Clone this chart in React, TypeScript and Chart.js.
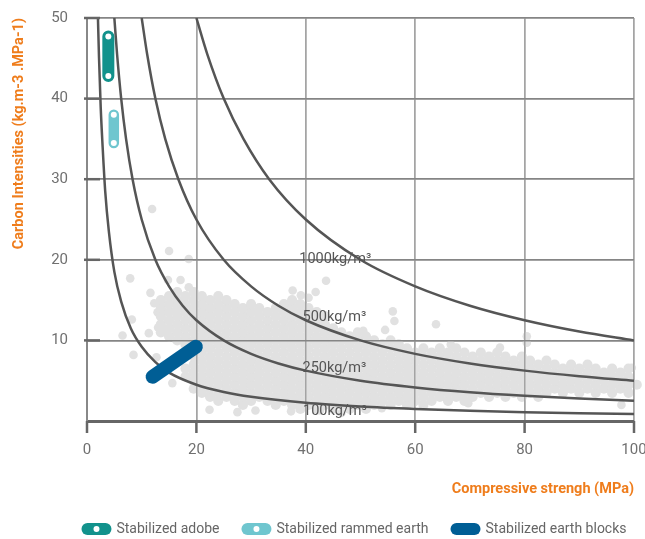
import React, { useEffect, useRef } from 'react';
import { Chart, registerables } from 'chart.js';

Chart.register(...registerables);

const FONT = "Roboto, 'DejaVu Sans Condensed', sans-serif";
const ORANGE = '#ef7d1c';

// axis ticks
const xTicks = [0, 20, 40, 60, 80, 100];
const yTicks = [10, 20, 30, 40, 50];

// iso-density curves (kg/m3)
const curveX100 = [2, 2.2, 2.5, 2.86, 3.33, 4, 5, 6.25, 8, 10, 12.5, 15, 20, 25, 30, 40, 50, 60, 70, 80, 90, 100];
const curveY100 = [50, 45, 39, 34, 28.5, 23.5, 18.5, 14.8, 11.5, 9.2, 7.3, 6.0, 4.5, 3.6, 3.0, 2.25, 1.8, 1.5, 1.28, 1.1, 0.96, 0.86];
const curveX250 = [5, 5.5, 6.25, 7.14, 8.33, 10, 12.5, 15, 17.5, 20, 25, 30, 35, 40, 50, 60, 70, 80, 90, 100];
const curveY250 = [50, 45.5, 40, 35, 30, 25, 20, 16.7, 14.3, 12.5, 10, 8.33, 7.14, 6.25, 5, 4.17, 3.57, 3.13, 2.78, 2.5];
const curveX500 = [10, 11, 12.5, 14.3, 16.7, 20, 25, 30, 35, 40, 50, 60, 70, 80, 90, 100];
const curveY500 = [50, 45.5, 40, 35, 30, 25, 20, 16.7, 14.3, 12.5, 10, 8.33, 7.14, 6.25, 5.56, 5];
const curveX1000 = [20, 22, 25, 28.6, 33.3, 40, 50, 60, 70, 80, 90, 100];
const curveY1000 = [50, 45.5, 40, 35, 30, 25, 20, 16.7, 14.3, 12.5, 11.1, 10];

const curveLabels = ['100kg/m³', '250kg/m³', '500kg/m³', '1000kg/m³'];
const curveLabelX = [39.5, 39.4, 39.4, 38.8];
const curveLabelY = [1.15, 6.55, 12.8, 20.1];

// highlighted series
const seriesNames = ['Stabilized adobe', 'Stabilized rammed earth', 'Stabilized earth blocks'];
const seriesColors = ['#12928c', '#6fc6cf', '#005e95'];
const adobeX = [3.9, 3.9];
const adobeY = [47.7, 42.8];
const rammedX = [4.9, 4.9];
const rammedY = [38.0, 34.5];
const blocksX = [12.0, 19.9];
const blocksY = [5.5, 9.2];

// background cloud of materials: [strength, list of carbon intensities]
const cloudColumns: [number, number[]][] = [
  [13.5, [11, 12, 13, 14, 15]],
  [15, [10.5, 11.5, 12.5, 13.5, 14.5, 15.5]],
  [16.5, [10, 11, 12, 13, 14, 15, 16]],
  [18, [5.5, 6.5, 9.5, 10.5, 11.5, 12.5, 13.5, 14.5, 15.5]],
  [19.5, [4, 5, 6, 7, 8, 9, 10, 11, 12, 13, 14, 15, 16]],
  [21, [3.5, 4.5, 5.5, 6.5, 7.5, 8.5, 9.5, 10.5, 11.5, 12.5, 13.5, 14.5, 15.5]],
  [22.5, [3, 4, 5, 6, 7, 8, 9, 10, 11, 12, 13, 14, 15]],
  [24, [2.5, 3.5, 4.5, 5.5, 6.5, 7.5, 8.5, 9.5, 10.5, 11.5, 12.5, 13.5, 14.5, 15.5]],
  [25.5, [3, 4, 5, 6, 7, 8, 9, 10, 11, 12, 13, 14, 15]],
  [27, [2.5, 3.5, 4.5, 5.5, 6.5, 7.5, 8.5, 9.5, 10.5, 11.5, 12.5, 13.5, 14.5]],
  [28.5, [2, 3, 4, 5, 6, 7, 8, 9, 10, 11, 12, 13, 14]],
  [30, [2.5, 3.5, 4.5, 5.5, 6.5, 7.5, 8.5, 9.5, 10.5, 11.5, 12.5, 13.5, 14.5]],
  [31.5, [3, 4, 5, 6, 7, 8, 9, 10, 11, 12, 13, 14]],
  [33, [2.5, 3.5, 4.5, 5.5, 6.5, 7.5, 8.5, 9.5, 10.5, 11.5, 12.5, 13.5]],
  [34.5, [2, 3, 4, 5, 6, 7, 8, 9, 10, 11, 12, 13, 14]],
  [36, [2.5, 3.5, 4.5, 5.5, 6.5, 7.5, 8.5, 9.5, 10.5, 11.5, 12.5, 13.5, 14.5]],
  [37.5, [2, 3, 4, 5, 6, 7, 8, 9, 10, 11, 12, 13, 14, 15]],
  [39, [1.5, 2.5, 3.5, 4.5, 5.5, 6.5, 7.5, 8.5, 9.5, 10.5, 11.5, 12.5, 13.5, 14.5]],
  [40.5, [2, 3, 4, 5, 6, 7, 8, 9, 10, 11, 12, 13, 14]],
  [42, [1.5, 2.5, 3.5, 4.5, 5.5, 6.5, 7.5, 8.5, 9.5, 10.5, 11.5, 12.5, 13.5]],
  [43.5, [2, 3, 4, 5, 6, 7, 8, 9, 10, 11, 12, 13]],
  [45, [1.5, 2.5, 3.5, 4.5, 5.5, 6.5, 7.5, 8.5, 9.5, 10.5, 11.5]],
  [46.5, [2, 3, 4, 5, 6, 7, 8, 9, 10, 11]],
  [48, [1.5, 2.5, 3.5, 4.5, 5.5, 6.5, 7.5, 8.5, 9.5, 10.5]],
  [49.5, [2, 3, 4, 5, 6, 7, 8, 9, 10, 11]],
  [51, [1.5, 2.5, 3.5, 4.5, 5.5, 6.5, 7.5, 8.5, 9.5, 10.5]],
  [52.5, [2, 3, 4, 5, 6, 7, 8, 9, 10]],
  [54, [2.5, 3.5, 4.5, 5.5, 6.5, 7.5, 8.5, 9.5]],
  [55.5, [2, 3, 4, 5, 6, 7, 8, 9, 10]],
  [57, [2.5, 3.5, 4.5, 5.5, 6.5, 7.5, 8.5, 9.5]],
  [58.5, [2, 3, 4, 5, 6, 7, 8, 9]],
  [60, [2.5, 3.5, 4.5, 5.5, 6.5, 7.5, 8.5]],
  [61.5, [2, 3, 4, 5, 6, 7, 8, 9]],
  [63, [2.5, 3.5, 4.5, 5.5, 6.5, 7.5, 8.5]],
  [64.5, [3, 4, 5, 6, 7, 8, 9]],
  [66, [2.5, 3.5, 4.5, 5.5, 6.5, 7.5, 8.5]],
  [67.5, [3, 4, 5, 6, 7, 8, 9]],
  [69, [2.5, 3.5, 4.5, 5.5, 6.5, 7.5, 8.5]],
  [70.5, [3, 4, 5, 6, 7, 8]],
  [72, [3.5, 4.5, 5.5, 6.5, 7.5, 8.5]],
  [73.5, [3, 4, 5, 6, 7, 8]],
  [75, [3.5, 4.5, 5.5, 6.5, 7.5, 8.5]],
  [76.5, [3, 4, 5, 6, 7, 8]],
  [78, [3.5, 4.5, 5.5, 6.5, 7.5]],
  [79.5, [3, 4, 5, 6, 7, 8]],
  [81, [3.5, 4.5, 5.5, 6.5, 7.5]],
  [82.5, [3, 4, 5, 6, 7]],
  [84, [3.5, 4.5, 5.5, 6.5, 7.5]],
  [85.5, [4, 5, 6, 7]],
  [87, [3.5, 4.5, 5.5, 6.5]],
  [88.5, [4, 5, 6, 7]],
  [90, [3.5, 4.5, 5.5, 6.5]],
  [91.5, [4, 5, 6, 7]],
  [93, [3.5, 4.5, 5.5, 6.5]],
  [94.5, [4, 5, 6]],
  [96, [3.5, 4.5, 5.5, 6.5]],
  [97.5, [4, 5, 6]],
  [99, [3.5, 4.5, 5.5, 6.5]],
  [100.5, [4.5, 5.5]],
];

const cloudStrays: [number, number][] = [
  [6.5, 10.6], [7.9, 17.7], [8.2, 12.6], [8.5, 8.2], [11.3, 10.9], [11.6, 15.9], [11.9, 26.3],
  [12.7, 7.9], [12.9, 13.5], [13.0, 11.6], [12.3, 14.6], [15.0, 21.1], [14.8, 17.5], [17.1, 17.5],
  [18.6, 20.1], [18.6, 16.6], [15.6, 4.7], [22.4, 1.4], [27.5, 1.1], [30.8, 1.3], [37.3, 1.2],
  [42.6, 1.3], [46.5, 1.0], [37.6, 16.2], [41.8, 16.0], [43.7, 17.4], [39.1, 15.6], [40.5, 15.3],
  [55.9, 13.6], [56.2, 12.4], [54.5, 11.3], [50.5, 11.2], [63.8, 12.0], [80.4, 10.5], [80.4, 9.7],
  [75.5, 9.1], [99.6, 6.6], [97.7, 2.0], [69.7, 2.2], [53.9, 1.6], [59.6, 2.2], [66.5, 9.5],
];

function pts(xs: number[], ys: number[]) {
  return xs.map((x, i) => ({ x, y: ys[i] }));
}

const gridOverCloud = {
  id: 'gridOverCloud',
  afterDatasetDraw(chart: any, args: any) {
    if (args.index !== 0) return;
    chart.scales.x.drawGrid(chart.chartArea);
    chart.scales.y.drawGrid(chart.chartArea);
  },
};

const tickMarks = {
  id: 'tickMarks',
  afterDatasetsDraw(chart: any) {
    const { ctx, chartArea: a, scales } = chart;
    ctx.save();
    ctx.strokeStyle = '#666';
    ctx.lineWidth = 2.5;
    yTicks.forEach((v) => {
      const py = scales.y.getPixelForValue(v);
      ctx.beginPath();
      ctx.moveTo(a.left - 3, py);
      ctx.lineTo(a.left + 13, py);
      ctx.stroke();
    });
    xTicks.forEach((v) => {
      const px = scales.x.getPixelForValue(v);
      ctx.beginPath();
      ctx.moveTo(px, a.bottom);
      ctx.lineTo(px, a.bottom + 12);
      ctx.stroke();
    });
    ctx.restore();
  },
};

const curveLabelPlugin = {
  id: 'curveLabels',
  afterDatasetsDraw(chart: any) {
    const { ctx, scales } = chart;
    ctx.save();
    ctx.font = `14.5px ${FONT}`;
    ctx.fillStyle = '#555';
    ctx.textAlign = 'left';
    ctx.textBaseline = 'middle';
    curveLabels.forEach((t, i) => {
      ctx.fillText(t, scales.x.getPixelForValue(curveLabelX[i]), scales.y.getPixelForValue(curveLabelY[i]));
    });
    ctx.restore();
  },
};

// legend with pill-shaped keys, centred like the original
const seriesLegend = {
  id: 'seriesLegend',
  afterDraw(chart: any) {
    const { ctx } = chart;
    const pillW = 30;
    const pillH = 12;
    const gapIn = 5;
    const gapOut = 22;
    const cx = 354;
    const cy = 529;
    ctx.save();
    ctx.font = `14px ${FONT}`;
    ctx.textBaseline = 'middle';
    ctx.textAlign = 'left';
    const widths = seriesNames.map((n) => ctx.measureText(n).width);
    const total = widths.reduce((s, w) => s + w + pillW + gapIn, 0) + gapOut * (seriesNames.length - 1);
    let x = cx - total / 2;
    seriesNames.forEach((name, i) => {
      ctx.fillStyle = seriesColors[i];
      ctx.beginPath();
      ctx.roundRect(x, cy - pillH / 2, pillW, pillH, pillH / 2);
      ctx.fill();
      if (i < 2) {
        ctx.fillStyle = '#ffffff';
        ctx.beginPath();
        ctx.arc(x + pillW / 2, cy, 3, 0, Math.PI * 2);
        ctx.fill();
      }
      x += pillW + gapIn;
      ctx.fillStyle = '#666';
      ctx.fillText(name, x, cy + 0.5);
      x += widths[i] + gapOut;
    });
    ctx.restore();
  },
};

export default function App() {
  const ref = useRef<HTMLCanvasElement>(null);

  useEffect(() => {
    const canvas = ref.current;
    if (!canvas) return;
    Chart.defaults.font.family = FONT;

    const cloud = cloudColumns.flatMap(([x, ys]) => ys.map((y) => ({ x, y })));
    const strays = cloudStrays.map(([x, y]) => ({ x, y }));

    const curveDs = (data: any[]) => ({
      data,
      showLine: true,
      borderColor: '#555',
      borderWidth: 2.5,
      pointRadius: 0,
      cubicInterpolationMode: 'monotone',
      order: 2,
    });
    const markerDs = (label: string, data: any[], color: string, width: number, dots: boolean) => ({
      label,
      data,
      showLine: true,
      borderColor: color,
      borderWidth: width,
      borderCapStyle: 'round',
      pointRadius: dots ? 3 : 0,
      pointBackgroundColor: '#ffffff',
      pointBorderWidth: 0,
      order: 1,
    });

    const chart = new Chart(canvas, {
      type: 'scatter',
      data: {
        datasets: [
          {
            label: 'materials',
            data: cloud,
            pointRadius: 5.1,
            pointBackgroundColor: '#e1e1e1',
            pointBorderWidth: 0,
            order: 3,
            clip: 8,
          } as any,
          {
            label: 'materials (scattered)',
            data: strays,
            pointRadius: 4.3,
            pointBackgroundColor: '#e1e1e1',
            pointBorderWidth: 0,
            order: 3,
            clip: 8,
          } as any,
          curveDs(pts(curveX100, curveY100)),
          curveDs(pts(curveX250, curveY250)),
          curveDs(pts(curveX500, curveY500)),
          curveDs(pts(curveX1000, curveY1000)),
          markerDs(seriesNames[0], pts(adobeX, adobeY), seriesColors[0], 12, true),
          markerDs(seriesNames[1], pts(rammedX, rammedY), seriesColors[1], 10.5, true),
          markerDs(seriesNames[2], pts(blocksX, blocksY), seriesColors[2], 14, false),
        ] as any,
      },
      options: {
        animation: false,
        responsive: true,
        maintainAspectRatio: false,
        events: [],
        layout: { autoPadding: false, padding: { left: 0, right: 11, top: 18, bottom: 0 } },
        scales: {
          x: {
            type: 'linear',
            min: 0,
            max: 100,
            afterFit: (s: any) => {
              s.height = 118;
              s.paddingLeft = 0;
              s.paddingRight = 0;
            },
            ticks: { stepSize: 20, padding: 20, color: '#707070', font: { size: 15, family: FONT } },
            grid: {
              drawTicks: false,
              color: (c: any) => (c.tick && c.tick.value === 0 ? 'rgba(0,0,0,0)' : '#a4a4a4'),
              lineWidth: 1.5,
            },
            border: { display: true, color: '#666', width: 3 },
            title: {
              display: true,
              text: 'Compressive strengh (MPa)',
              align: 'end',
              color: ORANGE,
              font: { size: 14.5, weight: 'bold', family: FONT },
              padding: { top: 0, bottom: 41.3 },
            },
          },
          y: {
            type: 'linear',
            min: 0,
            max: 50,
            afterFit: (s: any) => {
              s.width = 87;
              s.paddingTop = 0;
              s.paddingBottom = 0;
            },
            ticks: {
              stepSize: 10,
              padding: 19,
              color: '#707070',
              font: { size: 15, family: FONT },
              callback: (v: any) => (v === 0 ? '' : String(v)),
            },
            grid: {
              drawTicks: false,
              color: (c: any) => (c.tick && c.tick.value === 0 ? 'rgba(0,0,0,0)' : '#858585'),
              lineWidth: 1.5,
            },
            border: { display: true, color: '#888', width: 2 },
            title: {
              display: true,
              text: 'Carbon Intensities (kg.m-3 .MPa-1)',
              align: 'end',
              color: ORANGE,
              font: { size: 14.5, weight: 'bold', family: FONT },
              padding: { top: 10.8, bottom: 0 },
            },
          },
        },
        plugins: {
          tooltip: { enabled: false },
          legend: { display: false },
        },
      } as any,
      plugins: [gridOverCloud, tickMarks, curveLabelPlugin, seriesLegend],
    });

    return () => chart.destroy();
  }, []);

  return (
    <div style={{ position: 'fixed', left: 0, top: 0, width: 645, height: 539, background: '#ffffff' }}>
      <canvas ref={ref} />
    </div>
  );
}
